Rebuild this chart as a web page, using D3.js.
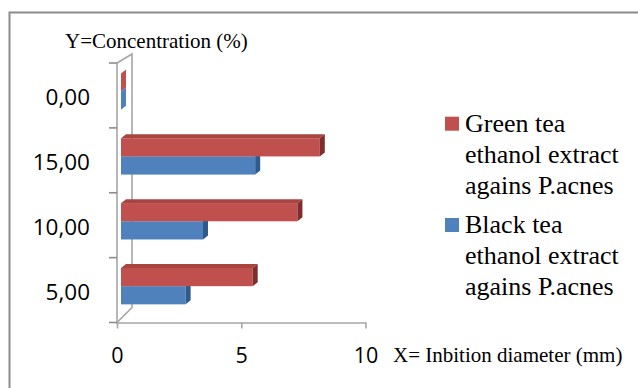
<!DOCTYPE html>
<html lang="en">
<head>
    <meta charset="UTF-8">
    <title>Inhibition diameter</title>
    <style>
        body { margin: 0; background: #fff; }
        svg { display: block; }
        .serif { font-family: "Liberation Serif", "DejaVu Serif", "Times New Roman", serif; }
        .sans { font-family: "Open Sans", sans-serif; }
    </style>
</head>
<body>
<script src="https://d3js.org/d3.v7.min.js"></script>
<script>
    // categories top to bottom, as they appear in the chart
    const categories = ["0,00", "15,00", "10,00", "5,00"];
    // green tea (red bars) and black tea (blue bars), inhibition diameter in mm
    const greenTea = [0, 8.0, 7.1, 5.3];
    const blackTea = [0, 5.4, 3.3, 2.6];
    const xTicks = [0, 5, 10];
    const seriesNames = [
        ["Green tea", "ethanol extract", "agains P.acnes"],
        ["Black tea", "ethanol extract", "agains P.acnes"]
    ];

    const width = 638, height = 388;

    const svg = d3.select("body").append("svg")
        .attr("width", width)
        .attr("height", height);

    // outer frame (right and bottom edges fall outside the picture)
    svg.append("rect")
        .attr("x", 9.5).attr("y", 12.5)
        .attr("width", 700).attr("height", 450)
        .attr("fill", "#fff")
        .attr("stroke", "#8c8c8c")
        .attr("stroke-width", 2);

    const x = d3.scaleLinear().domain([0, 10]).range([117, 365.5]);
    const y = d3.scaleBand().domain(categories).range([63, 322.5]);
    const bw = y.bandwidth();

    // 3d depth of the bars
    const dx = 5, dy = 4, shift = 4;
    const barH = bw * 0.28;
    const barTop = bw * 0.16;

    // side wall
    const wallDepthX = 15;
    svg.append("path")
        .attr("d", `M${x(0)},${y.range()[1]} L${x(0)},${y.range()[0]} L${x(0) + wallDepthX},${y.range()[0] - 9}
            L${x(0) + wallDepthX},${y.range()[1] - 15} Z`)
        .attr("fill", "#fff")
        .attr("stroke", "#a6a6a6")
        .attr("stroke-width", 1.6);

    // left ticks at the category boundaries
    const bounds = categories.map(c => y(c)).concat([y.range()[1]]);
    svg.append("g").selectAll("line")
        .data(bounds)
        .join("line")
        .attr("x1", x(0) - 8).attr("x2", x(0))
        .attr("y1", d => d).attr("y2", d => d)
        .attr("stroke", "#8c8c8c")
        .attr("stroke-width", 1.6);

    svg.append("g").selectAll("text")
        .data(categories)
        .join("text")
        .attr("class", "sans")
        .attr("x", 90)
        .attr("y", d => y(d) + bw / 2 + 9.6)
        .attr("text-anchor", "end")
        .attr("font-size", 22.5)
        .attr("fill", "#000")
        .text(d => d);

    // bottom axis
    const xAxis = svg.append("g")
        .attr("transform", `translate(0,${y.range()[1]})`)
        .call(d3.axisBottom(x).tickValues(xTicks).tickSize(6).tickSizeOuter(0).tickPadding(19.5));
    xAxis.attr("font-family", null);
    xAxis.select(".domain").attr("stroke", "#a6a6a6").attr("stroke-width", 1.6);
    xAxis.selectAll(".tick line").attr("stroke", "#a6a6a6").attr("stroke-width", 1.6);
    xAxis.selectAll(".tick text")
        .attr("class", "sans")
        .attr("font-size", 21.5)
        .attr("fill", "#000");

    function drawBars(values, offset, front, topC, side) {
        const g = svg.append("g");
        categories.forEach((c, i) => {
            const x0 = x(0) + shift, x1 = x(values[i]) + shift;
            const t = y(c) + barTop + offset, b = t + barH;
            if (values[i] === 0) {
                g.append("path")
                    .attr("d", `M${x0},${t} L${x0 + dx},${t - dy} L${x0 + dx},${b - dy} L${x0},${b} Z`)
                    .attr("fill", front);
                return;
            }
            g.append("rect")
                .attr("x", x0).attr("y", t)
                .attr("width", x1 - x0).attr("height", barH)
                .attr("fill", front);
            g.append("path")
                .attr("d", `M${x0},${t} L${x0 + dx},${t - dy} L${x1 + dx},${t - dy} L${x1},${t} Z`)
                .attr("fill", topC);
            g.append("path")
                .attr("d", `M${x1},${t} L${x1 + dx},${t - dy} L${x1 + dx},${b - dy} L${x1},${b} Z`)
                .attr("fill", side);
        });
    }

    // blue first, red sits on top of it
    drawBars(blackTea, barH, "#4f81bd", "#6b95c8", "#2f5a8c");
    drawBars(greenTea, 0, "#c0504d", "#a94441", "#7e2f2d");

    // axis titles
    svg.append("text")
        .attr("class", "serif")
        .attr("x", 65).attr("y", 48)
        .attr("font-size", 21)
        .text("Y=Concentration (%)");

    svg.append("text")
        .attr("class", "serif")
        .attr("x", 393).attr("y", 362)
        .attr("font-size", 21)
        .text("X= Inbition diameter (mm)");

    // legend
    const legendColors = ["#c0504d", "#4f81bd"];
    const legendTop = [131.7, 233];
    seriesNames.forEach((lines, i) => {
        svg.append("rect")
            .attr("x", 445).attr("y", legendTop[i] - 15)
            .attr("width", 14).attr("height", 14)
            .attr("fill", legendColors[i]);
        svg.append("g").selectAll("text")
            .data(lines)
            .join("text")
            .attr("class", "serif")
            .attr("x", 465)
            .attr("y", (d, k) => legendTop[i] + k * 31)
            .attr("font-size", 26)
            .attr("fill", "#000")
            .text(d => d);
    });
</script>
</body>
</html>
